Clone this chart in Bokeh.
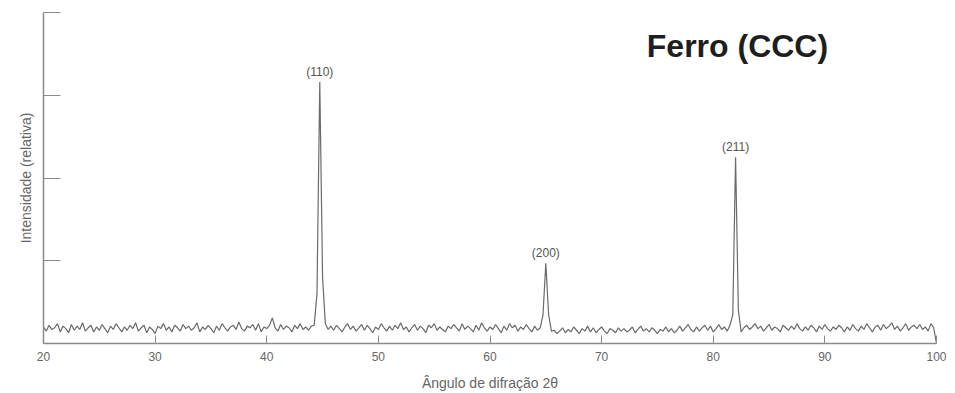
from bokeh.plotting import figure
from bokeh.models import ColumnDataSource, Range1d, Label, FixedTicker
from bokeh.core.properties import value
from bokeh.embed import file_html
from bokeh.resources import INLINE

# ---- data ----
angle_start = 20.0   # 2-theta of first sample (degrees)
angle_step = 0.25    # scan step (degrees)

intensity = [
    0.20, 0.15, 0.22, 0.17,  # 20
    0.19, 0.24, 0.14, 0.21,  # 21
    0.18, 0.13, 0.23, 0.16,  # 22
    0.21, 0.17, 0.25, 0.15,  # 23
    0.19, 0.22, 0.14, 0.20,  # 24
    0.16, 0.23, 0.18, 0.13,  # 25
    0.21, 0.17, 0.24, 0.19,  # 26
    0.14, 0.20, 0.16, 0.22,  # 27
    0.18, 0.25, 0.15, 0.19,  # 28
    0.22, 0.13, 0.20, 0.17,  # 29
    0.12, 0.21, 0.18, 0.24,  # 30
    0.16, 0.20, 0.14, 0.22,  # 31
    0.19, 0.15, 0.23, 0.18,  # 32
    0.21, 0.16, 0.19, 0.25,  # 33
    0.14, 0.20, 0.17, 0.22,  # 34
    0.18, 0.13, 0.21, 0.16,  # 35
    0.24, 0.19, 0.15, 0.20,  # 36
    0.22, 0.17, 0.26, 0.18,  # 37
    0.15, 0.21, 0.19, 0.23,  # 38
    0.16, 0.24, 0.14, 0.20,  # 39
    0.18, 0.22, 0.31, 0.19,  # 40
    0.15, 0.23, 0.17, 0.21,  # 41
    0.19, 0.14, 0.22, 0.18,  # 42
    0.24, 0.17, 0.20, 0.16,  # 43
    0.21, 0.22, 0.60, 3.16,  # 44
    0.80, 0.24, 0.17, 0.21,  # 45
    0.16, 0.22, 0.18, 0.14,  # 46
    0.20, 0.24, 0.17, 0.21,  # 47
    0.15, 0.19, 0.23, 0.16,  # 48
    0.22, 0.18, 0.13, 0.20,  # 49
    0.17, 0.24, 0.19, 0.15,  # 50
    0.21, 0.16, 0.22, 0.18,  # 51
    0.25, 0.17, 0.20, 0.14,  # 52
    0.19, 0.23, 0.16, 0.21,  # 53
    0.18, 0.13, 0.22, 0.19,  # 54
    0.24, 0.16, 0.20, 0.17,  # 55
    0.14, 0.21, 0.18, 0.23,  # 56
    0.19, 0.15, 0.24, 0.17,  # 57
    0.21, 0.18, 0.14, 0.22,  # 58
    0.16, 0.25, 0.19, 0.15,  # 59
    0.20, 0.17, 0.23, 0.18,  # 60
    0.13, 0.21, 0.16, 0.24,  # 61
    0.19, 0.22, 0.15, 0.20,  # 62
    0.17, 0.23, 0.18, 0.14,  # 63
    0.21, 0.16, 0.19, 0.35,  # 64
    0.97, 0.35, 0.15, 0.16,  # 65
    0.12, 0.15, 0.19, 0.13,  # 66
    0.17, 0.14, 0.20, 0.16,  # 67
    0.12, 0.18, 0.15, 0.21,  # 68
    0.14, 0.19, 0.13, 0.17,  # 69
    0.20, 0.15, 0.12, 0.18,  # 70
    0.16, 0.13, 0.19, 0.15,  # 71
    0.18, 0.14, 0.16, 0.20,  # 72
    0.13, 0.17, 0.21, 0.15,  # 73
    0.18, 0.14, 0.19, 0.16,  # 74
    0.12, 0.17, 0.15, 0.20,  # 75
    0.14, 0.18, 0.13, 0.16,  # 76
    0.21, 0.15, 0.19, 0.23,  # 77
    0.17, 0.14, 0.20, 0.15,  # 78
    0.19, 0.22, 0.16, 0.21,  # 79
    0.14, 0.18, 0.23, 0.17,  # 80
    0.20, 0.15, 0.22, 0.35,  # 81
    2.25, 0.40, 0.14, 0.19,  # 82
    0.22, 0.17, 0.20, 0.24,  # 83
    0.18, 0.21, 0.15, 0.19,  # 84
    0.23, 0.16, 0.20, 0.18,  # 85
    0.14, 0.22, 0.19, 0.16,  # 86
    0.21, 0.17, 0.24, 0.18,  # 87
    0.15, 0.20, 0.16, 0.22,  # 88
    0.19, 0.14, 0.21, 0.17,  # 89
    0.23, 0.18, 0.15, 0.20,  # 90
    0.17, 0.22, 0.19, 0.14,  # 91
    0.20, 0.16, 0.23, 0.18,  # 92
    0.15, 0.21, 0.17, 0.24,  # 93
    0.19, 0.14, 0.20, 0.22,  # 94
    0.16, 0.23, 0.18, 0.21,  # 95
    0.25, 0.17, 0.21, 0.15,  # 96
    0.19, 0.24, 0.16, 0.20,  # 97
    0.22, 0.18, 0.23, 0.17,  # 98
    0.20, 0.15, 0.24, 0.19,  # 99
    0.00,                    # 100
]

peak_labels = ["(110)", "(200)", "(211)"]
peak_angles = [44.75, 65.0, 82.0]
peak_heights = [3.16, 0.97, 2.25]

x_ticks = [20, 30, 40, 50, 60, 70, 80, 90, 100]
y_ticks = [1, 2, 3, 4]

angles = [angle_start + angle_step * i for i in range(len(intensity))]

# ---- figure ----
p = figure(width=947, height=393, output_backend="svg", toolbar_location=None,
           x_range=Range1d(20, 100), y_range=Range1d(0, 4),
           min_border_left=43, min_border_right=11, min_border_top=12,
           min_border_bottom=49)
p.outline_line_color = None
p.xgrid.visible = False
p.ygrid.visible = False
p.background_fill_color = "white"
p.border_fill_color = "white"

src = ColumnDataSource(dict(x=angles, y=intensity))
p.line("x", "y", source=src, line_color="#6a6a6a", line_width=1.2)

lab_src = ColumnDataSource(dict(x=peak_angles, y=peak_heights, t=peak_labels))
p.text("x", "y", text="t", source=lab_src, text_align="center",
       text_baseline="bottom", y_offset=-3,
       text_font=value("Liberation Sans"), text_font_size="12px",
       text_color="#555555")

title = Label(x=82.17, y=3.59, text="Ferro (CCC)", text_align="center",
              text_baseline="middle", text_font="Liberation Sans",
              text_font_size="32px", text_font_style="bold",
              text_color="#1e1e1e")
p.add_layout(title)

axis_col = "#8a8a8a"
# x axis
xa = p.xaxis[0]
xa.ticker = FixedTicker(ticks=x_ticks)
xa.minor_tick_line_color = None
xa.major_tick_in = 8
xa.major_tick_out = 0
xa.axis_line_color = axis_col
xa.axis_line_width = 1.5
xa.major_tick_line_color = axis_col
xa.major_label_text_font = "Liberation Sans"
xa.major_label_text_font_size = "12px"
xa.major_label_text_color = "#666666"
xa.major_label_standoff = 8
xa.axis_label = "Ângulo de difração 2θ"
xa.axis_label_text_font = "Liberation Sans"
xa.axis_label_text_font_size = "14px"
xa.axis_label_text_font_style = "normal"
xa.axis_label_text_color = "#666666"
xa.axis_label_standoff = 11

# y axis
ya = p.yaxis[0]
ya.ticker = FixedTicker(ticks=y_ticks)
ya.minor_tick_line_color = None
ya.major_tick_in = 17
ya.major_tick_out = 0
ya.axis_line_color = axis_col
ya.axis_line_width = 1.5
ya.major_tick_line_color = axis_col
ya.major_label_overrides = {t: "" for t in y_ticks}
ya.major_label_standoff = 0
ya.axis_label = "Intensidade (relativa)"
ya.axis_label_text_font = "Liberation Sans"
ya.axis_label_text_font_size = "14px"
ya.axis_label_text_font_style = "normal"
ya.axis_label_text_color = "#666666"
ya.axis_label_standoff = 10

open("out.html", "w").write(file_html(p, INLINE))
